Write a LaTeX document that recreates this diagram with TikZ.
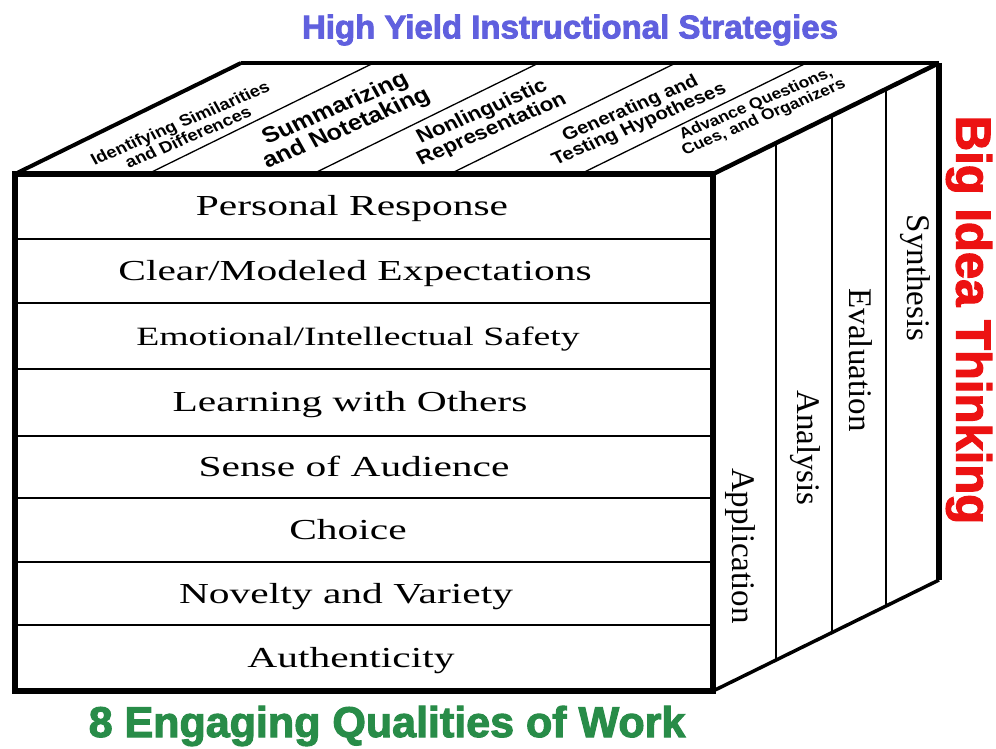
\documentclass[tikz,border=0pt]{standalone}
\usepackage{fontspec}
\setmainfont{Liberation Serif}
\setsansfont{Liberation Sans}
\newfontfamily\bannerfont{Liberation Sans Bold}[FakeBold=2.5]
\usetikzlibrary{calc}

\definecolor{yieldblue}{RGB}{96,96,222}
\definecolor{bigred}{RGB}{236,18,18}
\definecolor{workgreen}{RGB}{40,140,72}

\begin{document}
\begin{tikzpicture}[
  x=1pt, y=-1pt,
  divider/.style={line width=2pt},
  strip/.style={line width=1.3pt},
  quality/.style={font=\fontsize{#1}{#1}\selectfont, xscale=1.43,
    text height=19pt, text depth=0pt, inner sep=0pt},
  quality/.default=29,
  level/.style={font=\fontsize{33}{33}\selectfont, rotate=-90, inner sep=0pt},
  strategy/.style={font=\sffamily\bfseries\fontsize{#1}{#1}\selectfont,
    xscale=1.15, rotate=26, align=center, inner sep=0pt},
  banner/.style={font=\bannerfont\fontsize{#1}{#1}\selectfont, inner sep=0pt}
]
\fill[white] (0,0) rectangle (996,749);

% corners of the cube
\coordinate (ftl) at (15,174);
\coordinate (ftr) at (713,174);
\coordinate (fbl) at (15,691);
\coordinate (fbr) at (713,691);
\coordinate (btl) at (241,63);
\coordinate (btr) at (939,63);
\coordinate (bbr) at (939,580);

% top face
\foreach \t in {.19,.4265,.623,.81}
  \draw[strip] ($(ftl)!\t!(ftr)$) -- ($(btl)!\t!(btr)$);
\draw[line width=4pt] (ftl) -- (btl);
\draw[line width=3.5pt] (btl) -- (btr);

\node[strategy=16] (s1) at (184,130) {Identifying Similarities\\and Differences};
\node[strategy=22] (s2) at (341,119) {Summarizing\\and Notetaking};
\node[strategy=19.5] (s3) at (487,121) {Nonlinguistic\\Representation};
\node[strategy=17.6] (s4) at (635,117) {Generating and\\Testing Hypotheses};
\node[strategy=15.2] (s5) at (760,111) {Advance Questions,\\Cues, and Organizers};

% right face
\foreach \t in {.277,.527,.765}
  \draw[divider] ($(ftr)!\t!(btr)$) -- ($(fbr)!\t!(bbr)$);
\draw[line width=4.5pt] (ftr) -- (btr);
\draw[line width=5.5pt] (btr) -- (bbr);
\draw[line width=3.5pt] (bbr) -- (fbr);

\node[level] (application) at (740,546) {Application};
\node[level] (analysis) at (805,448) {Analysis};
\node[level] (evaluation) at (861,360) {Evaluation};
\node[level] (synthesis) at (915,278) {Synthesis};

% front face
\fill[white] (ftl) rectangle (fbr);
\foreach \y in {239,303,369,436,498,562,625}
  \draw[divider] (15,\y) -- (713,\y);
\draw[line width=6pt] (ftl) rectangle (fbr);

\node[quality] (q1) at (352,206) {Personal Response};
\node[quality] (q2) at (355,271) {Clear/Modeled Expectations};
\node[quality=26.4] (q3) at (358,336) {Emotional/Intellectual Safety};
\node[quality] (q4) at (350,402) {Learning with Others};
\node[quality] (q5) at (354,467) {Sense of Audience};
\node[quality] (q6) at (348,530) {Choice};
\node[quality] (q7) at (346,594) {Novelty and Variety};
\node[quality] (q8) at (351,658) {Authenticity};

% titles
\node[banner=33, text=yieldblue] (strategies) at (570,30) {High Yield Instructional Strategies};
\node[banner=49, text=bigred, rotate=-90] (thinking) at (969,320) {Big Idea Thinking};
\node[banner=43, text=workgreen] (qualities) at (387,726) {8 Engaging Qualities of Work};
\end{tikzpicture}
\end{document}
